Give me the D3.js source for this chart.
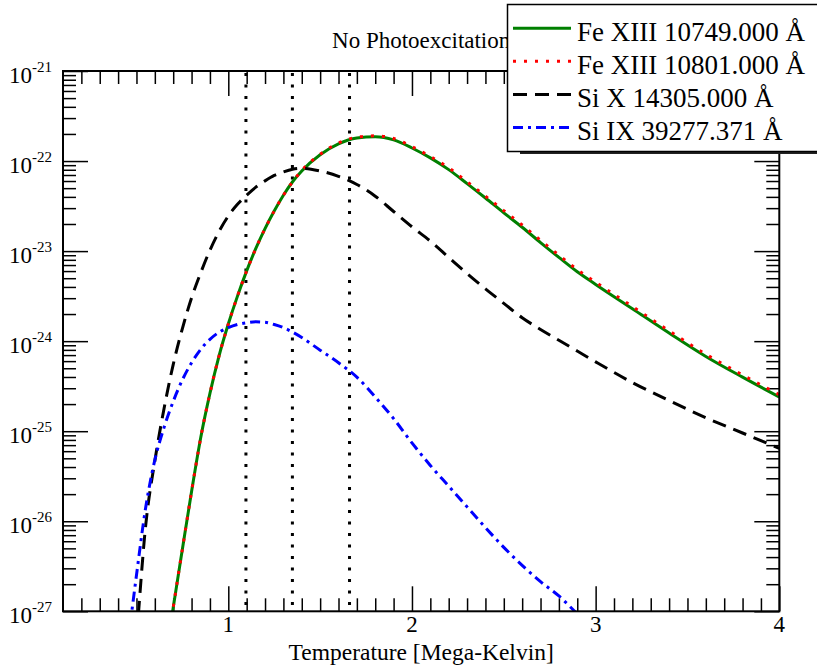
<!DOCTYPE html>
<html>
<head>
<meta charset="utf-8">
<script src="https://cdn.jsdelivr.net/npm/d3@7"></script>
<style>
  body { margin: 0; background: #fff; }
</style>
</head>
<body>
<svg id="chart"></svg>
<script>
// temperatures in MK, values are log10 of the emissivity
const temps = [0.45, 0.5, 0.55, 0.6, 0.65, 0.7, 0.75, 0.8, 0.85, 0.9, 0.95, 1.0, 1.05, 1.1, 1.15, 1.2, 1.25, 1.3, 1.35, 1.4,
  1.5, 1.6, 1.7, 1.8, 1.9, 2.0, 2.1, 2.2, 2.3, 2.4, 2.5, 2.6, 2.7, 2.8, 2.9, 3.0, 3.2, 3.4, 3.6, 3.8, 4.0]

const fe10749 = [null, null, null, -28.4, -27.65, -26.96, -26.31, -25.67, -25.07, -24.58, -24.16, -23.81, -23.5, -23.22, -22.97, -22.75, -22.555, -22.38, -22.23, -22.11,
  -21.93, -21.81, -21.745, -21.73, -21.765, -21.855, -21.965, -22.095, -22.25, -22.41, -22.575, -22.735, -22.905, -23.07, -23.23, -23.37, -23.64, -23.91, -24.17, -24.4, -24.62]
const fe10801 = [null, null, null, -28.4, -27.65, -26.96, -26.31, -25.67, -25.07, -24.58, -24.16, -23.81, -23.5, -23.22, -22.97, -22.75, -22.555, -22.38, -22.23, -22.105,
  -21.925, -21.8, -21.735, -21.72, -21.75, -21.84, -21.95, -22.075, -22.23, -22.39, -22.55, -22.71, -22.88, -23.045, -23.205, -23.345, -23.615, -23.885, -24.145, -24.375, -24.595]
const si14305 = [-28.5, -27.3, -26.05, -25.33, -24.75, -24.26, -23.86, -23.52, -23.24, -22.99, -22.78, -22.61, -22.48, -22.38, -22.29, -22.22, -22.16, -22.12, -22.09, -22.08,
  -22.11, -22.17, -22.26, -22.39, -22.56, -22.73, -22.89, -23.07, -23.25, -23.42, -23.58, -23.74, -23.87, -23.99, -24.11, -24.23, -24.46, -24.66, -24.85, -25.02, -25.19]
const si39277 = [-27.4, -26.6, -25.85, -25.32, -24.96, -24.67, -24.43, -24.24, -24.09, -23.98, -23.9, -23.85, -23.815, -23.795, -23.785, -23.79, -23.815, -23.85, -23.9, -23.96,
  -24.1, -24.24, -24.4, -24.62, -24.86, -25.13, -25.38, -25.61, -25.84, -26.07, -26.29, -26.49, -26.67, -26.83, -27.03, -27.25, null, null, null, null, null]

const markerTemps = [1.096, 1.349, 1.660]
const legendNames = ["Fe XIII 10749.000 Å", "Fe XIII 10801.000 Å", "Si X 14305.000 Å", "Si IX 39277.371 Å"]
const xTickLabels = [1, 2, 3, 4]
const yDecades = [-27, -26, -25, -24, -23, -22, -21]

const width = 817
const height = 666
const plot = { left: 63, right: 779.3, top: 71, bottom: 611.3 }
const serif = "'Liberation Serif', 'DejaVu Serif', 'Times New Roman', serif"

const svg = d3.select('svg#chart').attr('width', width).attr('height', height)
  .attr('font-family', serif)

const x = d3.scaleLinear().domain([0.1, 4]).range([plot.left, plot.right])
const y = d3.scaleLog().domain([1e-27, 1e-21]).range([plot.bottom, plot.top])

svg.append('clipPath').attr('id', 'clip')
  .append('rect')
  .attr('x', plot.left).attr('y', plot.top)
  .attr('width', plot.right - plot.left).attr('height', plot.bottom - plot.top)

// ticks, inside on all four sides
const xMinor = d3.range(2, 40).map(d => d / 10).filter(d => Math.abs(d - Math.round(d)) > 1e-6)
const xMajor = xTickLabels
const yMinor = []
yDecades.slice(0, -1).forEach(e => { for (let k = 2; k < 10; k++) yMinor.push(k * Math.pow(10, e)) })
const yMajor = yDecades.map(e => Math.pow(10, e))

function tickGroup(axis, tx, ty) {
  const g = svg.append('g').attr('transform', 'translate(' + tx + ',' + ty + ')').call(axis)
  g.select('.domain').remove()
  g.selectAll('text').remove()
  g.selectAll('line').attr('stroke', '#000').attr('stroke-width', 1.5)
  return g
}
tickGroup(d3.axisBottom(x).tickValues(xMinor).tickSize(-13), 0, plot.bottom)
tickGroup(d3.axisBottom(x).tickValues(xMajor).tickSize(-25), 0, plot.bottom)
tickGroup(d3.axisTop(x).tickValues(xMinor).tickSize(-13), 0, plot.top)
tickGroup(d3.axisTop(x).tickValues(xMajor).tickSize(-25), 0, plot.top)
tickGroup(d3.axisLeft(y).tickValues(yMinor).tickSize(-13), plot.left, 0)
tickGroup(d3.axisLeft(y).tickValues(yMajor).tickSize(-25), plot.left, 0)
tickGroup(d3.axisRight(y).tickValues(yMinor).tickSize(-13), plot.right, 0)
tickGroup(d3.axisRight(y).tickValues(yMajor).tickSize(-25), plot.right, 0)

// vertical marker lines
svg.append('g').selectAll('line')
  .data(markerTemps)
  .enter().append('line')
  .attr('x1', d => x(d)).attr('x2', d => x(d))
  .attr('y1', plot.top + 2).attr('y2', plot.bottom)
  .attr('stroke', '#000')
  .attr('stroke-width', 3)
  .attr('stroke-dasharray', '3,8.5')

// curves
const series = [
  { vals: fe10749, color: '#008000', dash: null, w: 3 },
  { vals: fe10801, color: '#ff0000', dash: '3,8', w: 3 },
  { vals: si14305, color: '#000000', dash: '14,8', w: 3 },
  { vals: si39277, color: '#0000ff', dash: '10,5,3,5', w: 3 },
]

const line = d3.line()
  .defined(d => d[1] !== null)
  .x(d => x(d[0]))
  .y(d => y(Math.pow(10, d[1])))
  .curve(d3.curveMonotoneX)

const curves = svg.append('g').attr('clip-path', 'url(#clip)')
series.forEach(s => {
  curves.append('path')
    .attr('d', line(temps.map((t, i) => [t, s.vals[i]])))
    .attr('fill', 'none')
    .attr('stroke', s.color)
    .attr('stroke-width', s.w)
    .attr('stroke-dasharray', s.dash)
})

// frame
svg.append('rect')
  .attr('x', plot.left).attr('y', plot.top)
  .attr('width', plot.right - plot.left).attr('height', plot.bottom - plot.top)
  .attr('fill', 'none').attr('stroke', '#000').attr('stroke-width', 2)

// tick labels
svg.append('g').selectAll('text')
  .data(xTickLabels)
  .enter().append('text')
  .attr('x', d => x(d)).attr('y', plot.bottom + 21)
  .attr('text-anchor', 'middle')
  .attr('font-size', 23)
  .text(d => d)

const yl = svg.append('g').selectAll('text')
  .data(yDecades)
  .enter().append('text')
  .attr('x', 52).attr('y', d => y(Math.pow(10, d)) + 12)
  .attr('text-anchor', 'end')
  .attr('font-size', 23)
yl.append('tspan').text('10')
yl.append('tspan').attr('dy', -11).attr('font-size', 15).text(d => d)

// axis title and chart title
svg.append('text')
  .attr('x', (plot.left + plot.right) / 2).attr('y', 660)
  .attr('text-anchor', 'middle')
  .attr('font-size', 23.5)
  .text('Temperature [Mega-Kelvin]')

svg.append('text')
  .attr('x', (plot.left + plot.right) / 2).attr('y', 48)
  .attr('text-anchor', 'middle')
  .attr('font-size', 23)
  .text('No Photoexcitation')

// legend
const leg = svg.append('g')
leg.append('rect')
  .attr('x', 520).attr('y', 7).attr('width', 320).attr('height', 147)
  .attr('fill', '#222')
leg.append('rect')
  .attr('x', 507.5).attr('y', 4.5).attr('width', 320).attr('height', 147)
  .attr('fill', '#fff').attr('stroke', '#000').attr('stroke-width', 1.5)

legendNames.forEach((name, i) => {
  const base = 40.7 + i * 33.1
  leg.append('line')
    .attr('x1', 513).attr('x2', 571)
    .attr('y1', base - 12.5).attr('y2', base - 12.5)
    .attr('stroke', series[i].color)
    .attr('stroke-width', series[i].w)
    .attr('stroke-dasharray', series[i].dash)
  leg.append('text')
    .attr('x', 577).attr('y', base)
    .attr('font-size', 27)
    .text(name)
})
</script>
</body>
</html>
